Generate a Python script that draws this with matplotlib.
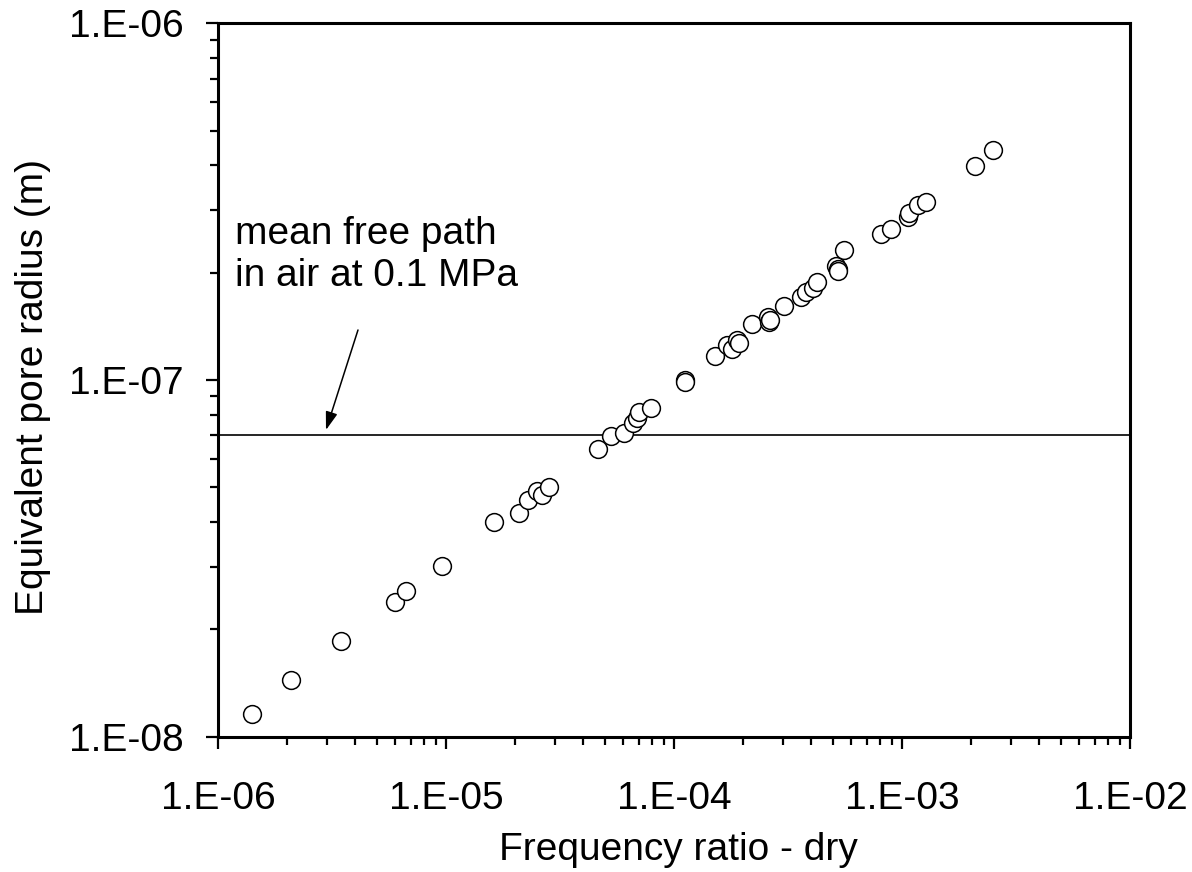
import matplotlib
matplotlib.use("Agg")
import matplotlib.pyplot as plt
from matplotlib.ticker import NullFormatter, LogLocator

plt.rcParams['font.family'] = ['Liberation Sans', 'DejaVu Sans']

# ---- data ----
freq_ratio = [1.41e-6, 2.09e-6, 3.45e-6, 5.95e-6, 6.71e-6, 9.65e-6,
              1.616e-5, 2.08e-5, 2.28e-5, 2.50e-5, 2.63e-5, 2.83e-5,
              4.66e-5, 5.28e-5, 6.04e-5, 6.63e-5, 6.86e-5, 7.04e-5, 7.90e-5,
              1.112e-4, 1.117e-4, 1.52e-4, 1.70e-4, 1.79e-4, 1.895e-4, 1.93e-4,
              2.205e-4, 2.59e-4, 2.62e-4, 2.64e-4, 3.04e-4, 3.61e-4, 3.79e-4,
              4.08e-4, 4.23e-4, 5.13e-4, 5.22e-4, 5.24e-4, 5.58e-4,
              8.06e-4, 8.97e-4, 1.066e-3, 1.077e-3, 1.172e-3, 1.274e-3,
              2.09e-3, 2.515e-3]
pore_radius = [1.158e-8, 1.442e-8, 1.849e-8, 2.386e-8, 2.562e-8, 3.01e-8,
               4.00e-8, 4.25e-8, 4.61e-8, 4.89e-8, 4.76e-8, 5.02e-8,
               6.39e-8, 6.98e-8, 7.11e-8, 7.56e-8, 7.81e-8, 8.15e-8, 8.33e-8,
               1.00e-7, 9.87e-8, 1.168e-7, 1.254e-7, 1.220e-7, 1.294e-7, 1.272e-7,
               1.433e-7, 1.499e-7, 1.457e-7, 1.475e-7, 1.616e-7, 1.705e-7, 1.765e-7,
               1.807e-7, 1.879e-7, 2.09e-7, 2.043e-7, 2.02e-7, 2.314e-7,
               2.562e-7, 2.646e-7, 2.87e-7, 2.944e-7, 3.094e-7, 3.149e-7,
               3.98e-7, 4.415e-7]
mean_free_path = 7.0e-8

x_ticks = [1e-6, 1e-5, 1e-4, 1e-3, 1e-2]
x_tick_labels = ["1.E-06", "1.E-05", "1.E-04", "1.E-03", "1.E-02"]
y_ticks = [1e-8, 1e-7, 1e-6]
y_tick_labels = ["1.E-08", "1.E-07", "1.E-06"]

x_label = "Frequency ratio - dry"
y_label = "Equivalent pore radius (m)"
note = "mean free path\nin air at 0.1 MPa"

# ---- figure ----
W, H = 1192, 872
fig = plt.figure(figsize=(W / 100, H / 100), dpi=100)
left, right, top, bottom = 218, 1130, 23.3, 736.7
ax = fig.add_axes([left / W, 1 - bottom / H, (right - left) / W, (bottom - top) / H])

ax.set_xscale('log')
ax.set_yscale('log')
ax.set_xlim(x_ticks[0], x_ticks[-1])
ax.set_ylim(y_ticks[0], y_ticks[-1])

ax.axhline(mean_free_path, color='black', lw=1.2, zorder=1)
ax.plot(freq_ratio, pore_radius, linestyle='none', marker='o', ms=12.8,
        mfc='white', mec='black', mew=1.1, zorder=3)

ax.set_xticks(x_ticks, x_tick_labels)
ax.set_yticks(y_ticks, y_tick_labels)
ax.xaxis.set_minor_locator(LogLocator(base=10, subs=range(2, 10)))
ax.yaxis.set_minor_locator(LogLocator(base=10, subs=range(2, 10)))
ax.xaxis.set_minor_formatter(NullFormatter())
ax.yaxis.set_minor_formatter(NullFormatter())

ax.tick_params(axis='both', which='major', direction='out', length=8.5, width=1.6,
               labelsize=28, color='black')
ax.tick_params(axis='both', which='minor', direction='out', length=5.8, width=1.6,
               color='black')
ax.tick_params(axis='x', which='major', pad=23.5)
ax.tick_params(axis='y', which='major', pad=16.5)

for s in ax.spines.values():
    s.set_linewidth(2.2)
    s.set_color('black')

ax.set_xlabel(x_label, fontsize=28)
ax.set_ylabel(y_label, fontsize=28)
ax.xaxis.set_label_coords(0.505, -0.133)
ax.yaxis.set_label_coords(-0.183, 0.49)

ax.text(0.0186, 0.6318, note, transform=ax.transAxes, fontsize=28,
        ha='left', va='baseline', linespacing=1.22)
ax.annotate('', xy=(0.1184, 0.4299), xycoords='axes fraction',
            xytext=(0.1535, 0.5701), textcoords='axes fraction',
            arrowprops=dict(arrowstyle='-|>,head_length=1.1,head_width=0.36',
                            mutation_scale=10, color='black', lw=1.1,
                            shrinkA=0, shrinkB=0))

fig.savefig('out.png', dpi=100)
